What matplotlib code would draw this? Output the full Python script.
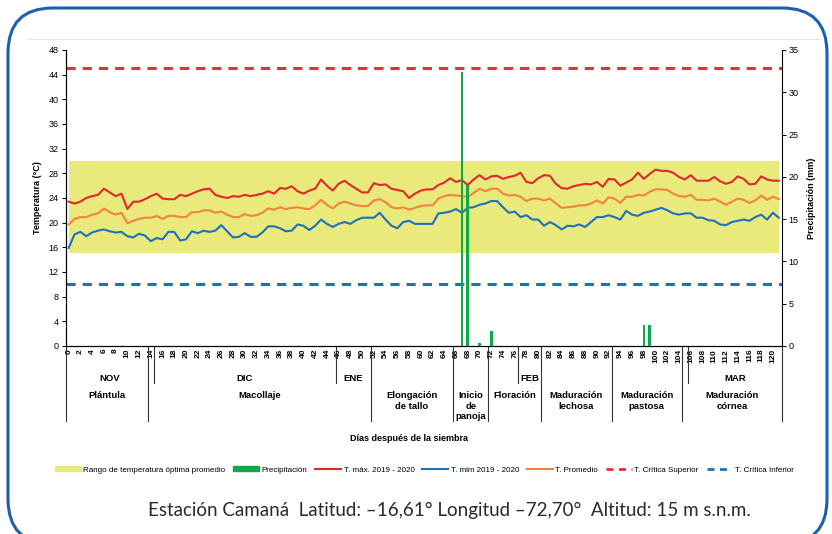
import numpy as np
import matplotlib
matplotlib.use("Agg")
import matplotlib.pyplot as plt
from matplotlib.patches import Patch, FancyBboxPatch
from matplotlib.lines import Line2D
from matplotlib.transforms import IdentityTransform

plt.rcParams['font.family'] = ['Liberation Sans', 'DejaVu Sans']

# dias despues de la siembra
days = np.arange(0, 122)

t_max = [23.4, 23.1, 23.4, 24.0, 24.3, 24.5, 25.5, 24.9, 24.3, 24.7,
         22.2, 23.4, 23.4, 23.8, 24.3, 24.7, 23.9, 23.8, 23.8, 24.5,
         24.3, 24.7, 25.1, 25.4, 25.5, 24.5, 24.2, 24.0, 24.3, 24.2,
         24.5, 24.3, 24.5, 24.7, 25.1, 24.7, 25.6, 25.5, 25.9, 25.1,
         24.7, 25.2, 25.5, 27.0, 26.0, 25.2, 26.3, 26.8, 26.1, 25.5,
         24.9, 24.9, 26.4, 26.1, 26.2, 25.5, 25.3, 25.1, 24.0, 24.7,
         25.2, 25.4, 25.4, 26.1, 26.5, 27.2, 26.6, 26.9, 26.1, 27.0,
         27.7, 27.0, 27.5, 27.6, 27.1, 27.4, 27.6, 28.1, 26.6, 26.4,
         27.2, 27.7, 27.6, 26.3, 25.6, 25.5, 25.9, 26.1, 26.3, 26.2,
         26.6, 25.8, 27.1, 27.0, 26.0, 26.5, 27.0, 28.1, 27.1, 27.9,
         28.6, 28.4, 28.4, 28.1, 27.4, 27.0, 27.7, 26.8, 26.8, 26.8,
         27.4, 26.7, 26.3, 26.6, 27.5, 27.1, 26.2, 26.3, 27.5, 27.0,
         26.8, 26.8]

t_prom = [19.7, 20.6, 20.9, 20.9, 21.3, 21.5, 22.3, 21.7, 21.3, 21.6,
          19.9, 20.3, 20.6, 20.8, 20.8, 21.1, 20.6, 21.1, 21.1, 20.9,
          20.9, 21.7, 21.7, 22.0, 22.0, 21.6, 21.8, 21.3, 20.9, 20.9,
          21.4, 21.1, 21.2, 21.6, 22.3, 22.1, 22.5, 22.2, 22.4, 22.5,
          22.3, 22.2, 22.8, 23.7, 22.9, 22.3, 23.1, 23.4, 23.1, 22.8,
          22.7, 22.7, 23.6, 23.8, 23.3, 22.5, 22.3, 22.5, 22.1, 22.4,
          22.7, 22.8, 22.8, 23.9, 24.3, 24.5, 24.4, 24.3, 24.2, 24.8,
          25.5, 25.1, 25.5, 25.5, 24.7, 24.4, 24.5, 24.2, 23.5, 23.9,
          23.9, 23.6, 23.9, 23.1, 22.4, 22.5, 22.6, 22.8, 22.8, 23.1,
          23.6, 23.1, 24.1, 23.9, 23.2, 24.2, 24.2, 24.5, 24.4, 25.0,
          25.4, 25.4, 25.3, 24.7, 24.3, 24.2, 24.5, 23.7, 23.7, 23.6,
          23.9, 23.4, 22.9, 23.4, 23.9, 23.7, 23.2, 23.6, 24.4, 23.7,
          24.2, 23.8]

t_min = [15.9, 18.1, 18.5, 17.8, 18.4, 18.7, 18.9, 18.6, 18.4, 18.5,
         17.8, 17.6, 18.2, 17.9, 17.0, 17.5, 17.3, 18.5, 18.5, 17.1,
         17.3, 18.6, 18.3, 18.7, 18.5, 18.7, 19.6, 18.6, 17.6, 17.7,
         18.3, 17.7, 17.7, 18.4, 19.4, 19.4, 19.1, 18.6, 18.7, 19.7,
         19.5, 18.8, 19.5, 20.5, 19.8, 19.3, 19.8, 20.1, 19.8, 20.4,
         20.8, 20.8, 20.8, 21.6, 20.5, 19.5, 19.1, 20.1, 20.3, 19.8,
         19.8, 19.8, 19.8, 21.5, 21.6, 21.8, 22.2, 21.6, 22.4, 22.5,
         22.9, 23.1, 23.5, 23.5, 22.5, 21.6, 21.8, 20.9, 21.2, 20.5,
         20.5, 19.5, 20.1, 19.6, 18.9, 19.5, 19.4, 19.7, 19.3, 20.1,
         20.9, 20.9, 21.2, 20.9, 20.5, 21.9, 21.3, 21.1, 21.6, 21.8,
         22.1, 22.4, 22.0, 21.5, 21.3, 21.5, 21.5, 20.8, 20.8, 20.4,
         20.3, 19.7, 19.6, 20.1, 20.3, 20.5, 20.3, 20.9, 21.3, 20.5,
         21.6, 20.8]

precip_days = [67, 68, 70, 72, 98, 99]
precip_mm = [32.4, 19.0, 0.3, 1.8, 2.5, 2.5]

rango_opt = (15, 30)
t_crit_sup = 45
t_crit_inf = 10

# meses y etapas
month_names = ["NOV", "DIC", "ENE", "FEB", "MAR"]
month_pos = [7, 30, 48.5, 78.5, 113.5]
month_limits = [14.5, 45.5, 76.5, 105.5]
stage_names = ["Plántula", "Macollaje", "Elongación\nde tallo", "Inicio\nde\npanoja",
               "Floración", "Maduración\nlechosa", "Maduración\npastosa", "Maduración\ncórnea"]
stage_limits = [-0.5, 13.5, 51.5, 65.5, 71.5, 80.5, 92.5, 104.5, 121.5]

c_max = '#e1282d'
c_min = '#1b72bb'
c_prom = '#f6823f'
c_yel = '#e9e97c'
c_green = '#10a84b'

fig = plt.figure(figsize=(8.32, 5.34), dpi=100)
ax = fig.add_axes([0.079, 0.3521, 0.8606, 0.5543])
ax2 = ax.twinx()

ax.fill_between([0, 121], rango_opt[0], rango_opt[1], color=c_yel, lw=0, zorder=1)
ax.plot(days, t_max, color=c_max, lw=1.5, zorder=3)
ax.plot(days, t_min, color=c_min, lw=1.5, zorder=3)
ax.plot(days, t_prom, color=c_prom, lw=1.5, zorder=3)
ax.axhline(t_crit_sup, color='#ee2b36', lw=2.2, dashes=(3, 2.3), zorder=2)
ax.axhline(t_crit_inf, color='#1b72bb', lw=2.2, dashes=(3, 2.3), zorder=2)

ax2.bar(precip_days, precip_mm, width=0.45, color=c_green, zorder=4)

ax.set_xlim(-0.5, 121.5)
ax.set_ylim(0, 48)
ax2.set_ylim(0, 35)
ax.set_yticks(range(0, 49, 4))
ax2.set_yticks(range(0, 36, 5))
ax.set_xticks(range(0, 121, 2))
ax.set_xticklabels([str(d) for d in range(0, 121, 2)], rotation=90,
                   fontsize=6, fontweight='bold')
ax.tick_params(axis='x', length=0, pad=2)
ax.tick_params(axis='y', labelsize=6.5, length=3, width=0.7, pad=2)
ax2.tick_params(axis='y', labelsize=6.5, length=3, width=0.7, pad=2)

for a in (ax, ax2):
    a.spines['top'].set_visible(False)
    for s in ('left', 'right', 'bottom'):
        a.spines[s].set_linewidth(0.8)
ax.spines['right'].set_visible(False)

ax.set_ylabel("Temperatura (°C)", fontsize=6.5, fontweight='bold')
ax.yaxis.set_label_coords(-0.0335, 0.5)
ax2.set_ylabel("Precipitación (mm)", fontsize=6.5, fontweight='bold')
ax2.yaxis.set_label_coords(1.035, 0.5)

# separadores bajo el eje
trans = ax.get_xaxis_transform()
for x in month_limits:
    ax.plot([x, x], [0, -0.125], transform=trans, color='#333333', lw=0.8, clip_on=False)
for x in stage_limits:
    ax.plot([x, x], [0, -0.253], transform=trans, color='#333333', lw=0.8, clip_on=False)
for name, x in zip(month_names, month_pos):
    ax.text(x, -0.111, name, transform=trans, ha='center', va='center',
            fontsize=6.8, fontweight='bold')
for i, name in enumerate(stage_names):
    x = (stage_limits[i] + stage_limits[i + 1]) / 2
    ax.text(x, -0.152, name, transform=trans, ha='center', va='top',
            fontsize=6.8, fontweight='bold', linespacing=1.25)
ax.text(58, -0.314, "Días después de la siembra", transform=trans, ha='center',
        va='center', fontsize=6.5, fontweight='bold')

handles = [Patch(color=c_yel), Patch(color=c_green),
           Line2D([], [], color=c_max, lw=1.5), Line2D([], [], color=c_min, lw=1.5),
           Line2D([], [], color=c_prom, lw=1.5),
           Line2D([], [], color='#ee2b36', lw=2, dashes=(2.5, 2)),
           Line2D([], [], color='#1b72bb', lw=2, dashes=(2.5, 2))]
labels = ["Rango de temperatura óptima promedio", "Precipitación", "T. máx. 2019 - 2020",
          "T. mim 2019 - 2020", "T. Promedio", "T. Crítica Superior", "T. Crítica Inferior"]
fig.legend(handles, labels, loc='center', bbox_to_anchor=(0.51, 0.12), ncol=7,
           frameon=False, fontsize=5.8, handlelength=3.2, handleheight=0.6,
           columnspacing=1.0, handletextpad=0.3)

fig.text(0.54, 0.045, "Estación Camaná  Latitud: –16,61° Longitud –72,70°  Altitud: 15 m s.n.m.",
         ha='center', va='center', fontsize=13.5, family=['Lato', 'DejaVu Sans'],
         color='#2a2a2a')

# marco y linea superior
fig.add_artist(Line2D([0.032, 0.986], [0.927, 0.927], transform=fig.transFigure,
                      color='#e6e6e6', lw=0.8))
frame = FancyBboxPatch((8, -10), 819, 536, boxstyle="round,pad=0,rounding_size=45",
                       transform=IdentityTransform(), fill=False,
                       edgecolor='#1d5fae', lw=2.2)
fig.add_artist(frame)

fig.savefig("out.png", dpi=100)
